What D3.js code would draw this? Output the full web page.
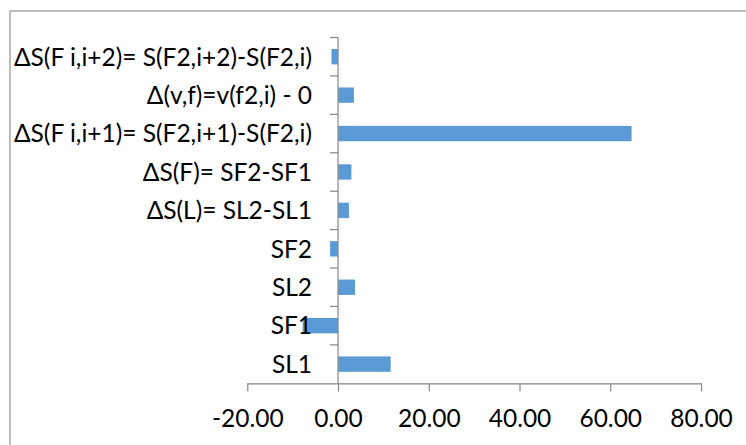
<!DOCTYPE html>
<html><head><meta charset="utf-8">
<script src="https://cdn.jsdelivr.net/npm/d3@7/dist/d3.min.js"></script>
<style>body{margin:0;background:#fff}svg{display:block}</style>
</head><body>
<svg id="c" width="746" height="445"></svg>
<script>
const categories = ["SL1","SF1","SL2","SF2","ΔS(L)= SL2-SL1","ΔS(F)= SF2-SF1","ΔS(F i,i+1)= S(F2,i+1)-S(F2,i)","Δ(v,f)=v(f2,i) - 0","ΔS(F i,i+2)= S(F2,i+2)-S(F2,i)"];
const values = [11.6, -7.8, 3.75, -1.75, 2.4, 2.95, 64.7, 3.5, -1.45];
const xTicks = [-20, 0, 20, 40, 60, 80];

const svg = d3.select("#c");
const font = "Lato, 'Open Sans', sans-serif";
const fs = "24.5px";
svg.append("rect").attr("x",10).attr("y",11).attr("width",800).attr("height",500)
  .attr("fill","#fff").attr("stroke","#a6a6a6").attr("stroke-width",1.5);

const x = d3.scaleLinear().domain([-20,80]).range([247.3,701]);
const y = d3.scaleBand().domain(categories.slice().reverse()).range([37.5,383.3]).paddingInner(0.6).paddingOuter(0.3);

// bars
svg.selectAll(".bar").data(categories).enter().append("rect")
  .attr("x",(d,i)=>x(Math.min(0,values[i])))
  .attr("width",(d,i)=>Math.abs(x(values[i])-x(0)))
  .attr("y",d=>y(d)).attr("height",y.bandwidth())
  .attr("fill","#5b9bd5");

const axisColor = "#868686";
// x axis
const fmt = d => d3.format(".2f")(d).replace("−","-");
const gx = svg.append("g").attr("transform","translate(0,383.3)")
  .call(d3.axisBottom(x).tickValues(xTicks).tickSize(8).tickSizeOuter(0).tickFormat(fmt));
gx.select(".domain").attr("stroke",axisColor).attr("stroke-width",1.2);
gx.selectAll(".tick line").attr("stroke",axisColor).attr("stroke-width",1.2);
gx.selectAll("text").attr("fill","#000").style("font-family",font).style("font-size",fs).attr("y",43.5).attr("dy","0");

// y axis at x=0
const yBand = d3.scaleBand().domain(categories.slice().reverse()).range([37.5,383.3]);
const gy = svg.append("g").attr("transform",`translate(${x(0)},0)`);
gy.append("line").attr("x1",0).attr("x2",0).attr("y1",37.5).attr("y2",383.3).attr("stroke",axisColor).attr("stroke-width",1.2);
const bounds = categories.map(c=>yBand(c));
gy.selectAll(".yt").data(bounds).enter().append("line")
  .attr("x1",-8).attr("x2",0).attr("y1",d=>d).attr("y2",d=>d)
  .attr("stroke",axisColor).attr("stroke-width",1.2);
svg.append("g").selectAll("text").data(categories).enter().append("text")
  .attr("x",312).attr("y",d=>yBand(d)+yBand.bandwidth()/2)
  .attr("dy","0.36em").attr("text-anchor","end")
  .style("font-family",font).style("font-size",fs).attr("fill","#000")
  .text(d=>d);
</script>
</body></html>
